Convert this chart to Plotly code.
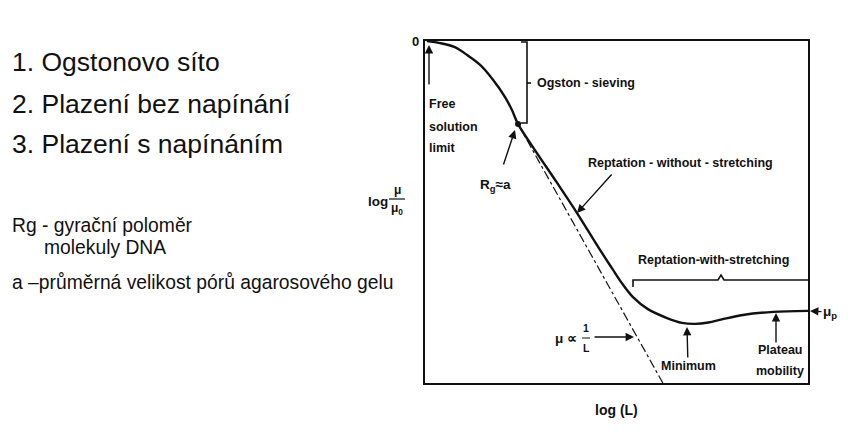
import plotly.graph_objects as go

# ---- data (schematic: log(L) vs log(mu/mu0)) ----
curve_logL = [0.05, 0.39, 0.78, 1.10, 1.44, 1.78, 2.09, 2.27, 2.43, 2.87, 3.45, 3.97, 4.57,
              4.88, 5.14, 5.43, 5.82, 6.32, 6.71, 7.05, 7.40, 7.75, 8.30, 9.09, 10.0]
curve_logmu = [0.0, -0.06, -0.18, -0.41, -0.70, -1.14, -1.64, -2.02, -2.43, -3.19, -4.15, -5.03, -6.11,
               -6.64, -7.08, -7.49, -7.84, -8.10, -8.24, -8.27, -8.23, -8.14, -8.01, -7.92, -7.89]
inv_logL = [2.43, 6.21]
inv_logmu = [-2.43, -10.0]
rg_point = ([2.43], [-2.43])

# ---- geometry helpers (plot area in page pixels; page body has 8px margin) ----
OFF = 8
L, R, T, B = 425, 808, 41, 383
PW, PH = 851, 437
W, H = PW - OFF, PH - OFF
def X(px): return (px - L) / (R - L) * 10
def Y(py): return -(py - T) / (B - T) * 10
def PX(px): return (px - L) / (R - L)
def PY(py): return (B - py) / (B - T)

FONT = "Liberation Sans, Arial, sans-serif"
SANS = "Arial, Liberation Sans, sans-serif"
AR = dict(arrowhead=2, arrowsize=1.2, arrowwidth=1.4, arrowcolor="#111")

fig = go.Figure()
fig.add_trace(go.Scatter(x=inv_logL, y=inv_logmu, mode="lines",
                         line=dict(color="#111", width=1.2, dash="dashdot"), hoverinfo="skip"))
fig.add_trace(go.Scatter(x=curve_logL, y=curve_logmu, mode="lines",
                         line=dict(color="#111", width=2.4, shape="spline", smoothing=0.9), hoverinfo="skip"))
fig.add_trace(go.Scatter(x=rg_point[0], y=rg_point[1], mode="markers",
                         marker=dict(color="#111", size=6), hoverinfo="skip"))

ann = []
def txt(px, py, s, size=12.5, xanchor="center", font=FONT, bold=True, color="#111"):
    t = f"<b>{s}</b>" if bold else s
    ann.append(dict(x=PX(px), y=PY(py), xref="paper", yref="paper", text=t, showarrow=False,
                    xanchor=xanchor, yanchor="middle", font=dict(family=font, size=size, color=color)))

def arrow(hx, hy, tx, ty):
    ann.append(dict(x=PX(hx), y=PY(hy), xref="paper", yref="paper", text="", showarrow=True,
                    ax=tx - hx, ay=ty - hy, **AR))

def labelled_arrow(hx, hy, tx, ty, s, size=12.5):
    ann.append(dict(x=PX(hx), y=PY(hy), xref="paper", yref="paper", text=f"<b>{s}</b>", showarrow=True,
                    ax=tx - hx, ay=ty - hy, font=dict(family=FONT, size=size, color="#111"), **AR))

# chart labels
txt(415, 42, "0", 13)
txt(535, 83, "Ogston - sieving", xanchor="left")
txt(427, 104, "Free", xanchor="left")
txt(427, 127, "solution", xanchor="left")
txt(427, 148, "limit", xanchor="left")
txt(495, 185, "R<sub>g</sub>≈a", 13.5)
txt(680, 163, "Reptation - without - stretching")
txt(713, 260, "Reptation-with-stretching")
txt(566, 338, "μ ∝", 13.5)
txt(586, 328, "1", 10.5)
txt(586, 348, "L", 10.5)
txt(780, 350, "Plateau")
txt(780, 371, "mobility")
txt(616, 410, "log (L)", 14)
txt(378, 201, "log", 13.5)
txt(397, 190, "μ", 12)
txt(397, 209, "μ<sub>0</sub>", 12)

# arrows
arrow(429, 45, 429, 86)
arrow(515, 130, 503, 166)
arrow(577, 213, 613, 173)
arrow(634, 337, 593, 337)
arrow(776, 313, 776, 344)
labelled_arrow(687, 327, 688, 366, "Minimum")
labelled_arrow(810, 311, 830, 312, "μ<sub>p</sub>", 13.5)

# left-hand Czech text
txt(10, 62, "1. Ogstonovo síto", 26.5, xanchor="left", font=SANS, bold=False)
txt(10, 104, "2. Plazení bez napínání", 26.5, xanchor="left", font=SANS, bold=False)
txt(10, 144, "3. Plazení s napínáním", 26.5, xanchor="left", font=SANS, bold=False)
txt(10, 225, "Rg - gyrační poloměr", 19.3, xanchor="left", font=SANS, bold=False)
txt(42, 247, "molekuly DNA", 19.3, xanchor="left", font=SANS, bold=False)
txt(10, 282, "a –průměrná velikost pórů agarosového gelu", 19.3, xanchor="left", font=SANS, bold=False)

shapes = []
def path(pts):
    d = "M " + " L ".join(f"{X(a):.4f},{Y(b):.4f}" for a, b in pts)
    shapes.append(dict(type="path", path=d, xref="x", yref="y", line=dict(color="#111", width=1.6)))

# brackets
path([(521, 42), (527, 42), (527, 123), (521, 123)])
path([(527, 83), (531, 83)])
path([(633, 287), (633, 280), (718, 280), (721, 275), (724, 280), (808, 280)])
# fraction bars
shapes.append(dict(type="line", xref="paper", yref="paper", x0=PX(389), x1=PX(405), y0=PY(199), y1=PY(199),
                   line=dict(color="#111", width=1.2)))
shapes.append(dict(type="line", xref="x", yref="y", x0=X(582), x1=X(590), y0=Y(338), y1=Y(338),
                   line=dict(color="#111", width=1.0)))

fig.update_layout(
    width=W, height=H, showlegend=False,
    paper_bgcolor="white", plot_bgcolor="white",
    margin=dict(l=L - OFF, r=PW - R, t=T - OFF, b=PH - B, pad=0),
    xaxis=dict(range=[0, 10], showgrid=False, zeroline=False, showticklabels=False, ticks="",
               showline=True, mirror=True, linecolor="#111", linewidth=2),
    yaxis=dict(range=[-10, 0], showgrid=False, zeroline=False, showticklabels=False, ticks="",
               showline=True, mirror=True, linecolor="#111", linewidth=2),
    annotations=ann, shapes=shapes,
)

fig.write_html("out.html")
